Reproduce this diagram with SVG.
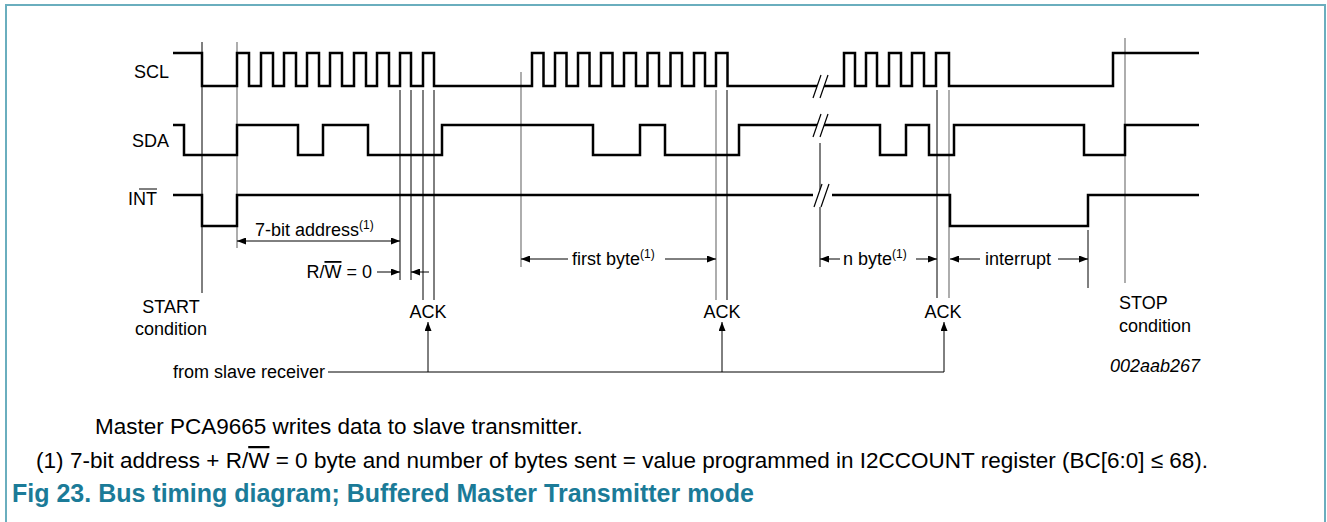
<svg xmlns="http://www.w3.org/2000/svg" width="1327" height="522" viewBox="0 0 1327 522">
<style>
.w{fill:none;stroke:#000;stroke-width:2.5;stroke-linejoin:miter}
.v{stroke:#000;stroke-width:1;fill:none}
.g{stroke:#777;stroke-width:1.2;fill:none}
.d{stroke:#000;stroke-width:1;fill:none}
.t{font-family:"Liberation Sans",Arial,sans-serif;font-size:18px;fill:#000}
.f{font-family:"Liberation Sans",Arial,sans-serif;font-size:22.5px;fill:#000}
.s{font-size:12px}
.br{fill:#fff;stroke:none}
.sl{stroke:#000;stroke-width:1.2}
.ttl{font-family:"Liberation Sans",Arial,sans-serif;font-size:25px;font-weight:bold;fill:#1b7b98}
</style>
<defs>
<marker id="ah" markerUnits="userSpaceOnUse" markerWidth="9" markerHeight="7" refX="9" refY="3.5" orient="auto-start-reverse">
<path d="M0,0 L9,3.5 L0,7 z" fill="#000"/>
</marker>
</defs>
<rect x="0" y="0" width="1327" height="522" fill="#fff"/>
<path d="M6,522 V5 H1325 V522" fill="none" stroke="#6aaebe" stroke-width="2"/>

<g id="labels">
<text class="t" x="169" y="78" text-anchor="end">SCL</text>
<text class="t" x="169" y="147" text-anchor="end">SDA</text>
<text class="t" x="157" y="205" text-anchor="end">INT</text>
<line x1="139" y1="189" x2="157" y2="189" stroke="#000" stroke-width="1"/>
</g>

<g id="markers">
<line class="v" x1="202" y1="42" x2="202" y2="293"/>
<line class="g" x1="237" y1="42" x2="237" y2="248"/>
<line class="v" x1="400" y1="90" x2="400" y2="280"/>
<line class="v" x1="411" y1="90" x2="411" y2="280"/>
<line class="v" x1="423" y1="90" x2="423" y2="300"/>
<line class="v" x1="434" y1="90" x2="434" y2="300"/>
<line class="g" x1="521" y1="72" x2="521" y2="267"/>
<line class="g" x1="716" y1="90" x2="716" y2="300"/>
<line class="v" x1="727" y1="90" x2="727" y2="300"/>
<line class="v" x1="820" y1="143" x2="820" y2="267"/>
<line class="v" x1="937" y1="90" x2="937" y2="298"/>
<line class="g" x1="949" y1="90" x2="949" y2="298"/>
<line class="v" x1="1088" y1="230" x2="1088" y2="288"/>
<line class="g" x1="1125" y1="38" x2="1125" y2="283"/>
</g>

<g id="SCL">
<path class="w" d="M173,53 H202 V86 H237 V53 H249 V86 H261 V53 H273 V86 H284 V53 H296 V86 H307 V53 H319 V86 H330 V53 H342 V86 H354 V53 H366 V86 H377 V53 H389 V86 H400 V53 H411 V86 H423 V53 H434 V86 H532 V53 H543.5 V86 H555 V53 H566.5 V86 H578 V53 H589.5 V86 H601 V53 H612.5 V86 H624 V53 H636 V86 H647.5 V53 H659 V86 H670.5 V53 H682 V86 H694 V53 H705 V86 H716 V53 H727.5 V86 H844 V53 H855 V86 H866 V53 H877 V86 H889 V53 H901 V86 H912 V53 H924 V86 H936 V53 H949 V86 H1113 V53 H1199"/>
</g>
<g id="SDA">
<path class="w" d="M173,125 H184 V155 H237 V125 H298 V155 H323 V125 H368 V155 H442 V125 H593 V155 H640 V125 H665 V155 H739 V125 H880 V155 H906 V125 H929 V155 H954 V125 H1084 V155 H1125 V125 H1199"/>
</g>
<g id="INT">
<path class="w" d="M173,195 H202 V226 H237 V195 H950 V226 H1088 V195 H1199"/>
</g>

<g id="breaks">
<polygon class="br" points="813,98 821,75 828,75 820,98"/>
<line class="sl" x1="813" y1="98" x2="821" y2="75"/>
<line class="sl" x1="820" y1="98" x2="828" y2="75"/>
<polygon class="br" points="813,137 821,114 828,114 820,137"/>
<line class="sl" x1="813" y1="137" x2="821" y2="114"/>
<line class="sl" x1="820" y1="137" x2="828" y2="114"/>
<rect class="br" x="813" y="190" width="19" height="10"/>
<polygon class="br" points="814,207 822,184 829,184 821,207"/>
<line class="sl" x1="814" y1="207" x2="822" y2="184"/>
<line class="sl" x1="821" y1="207" x2="829" y2="184"/>
</g>

<g id="connectors">
<line class="d" x1="237" y1="241" x2="400" y2="241" marker-start="url(#ah)" marker-end="url(#ah)"/>
<line class="d" x1="377" y1="272" x2="400" y2="272" marker-end="url(#ah)"/>
<line class="d" x1="429" y1="272" x2="411" y2="272" marker-end="url(#ah)"/>
<line class="d" x1="568" y1="259" x2="521" y2="259" marker-end="url(#ah)"/>
<line class="d" x1="665" y1="259" x2="716" y2="259" marker-end="url(#ah)"/>
<line class="d" x1="840" y1="259" x2="820" y2="259" marker-end="url(#ah)"/>
<line class="d" x1="916" y1="259" x2="937" y2="259" marker-end="url(#ah)"/>
<line class="d" x1="980" y1="259" x2="950" y2="259" marker-end="url(#ah)"/>
<line class="d" x1="1058" y1="259" x2="1088" y2="259" marker-end="url(#ah)"/>
<path class="d" d="M328,372 H944"/>
<line class="d" x1="428" y1="372" x2="428" y2="322" marker-end="url(#ah)"/>
<line class="d" x1="722" y1="372" x2="722" y2="322" marker-end="url(#ah)"/>
<line class="d" x1="944" y1="372" x2="944" y2="322" marker-end="url(#ah)"/>
</g>

<g id="annotations">
<text class="t" x="255" y="236">7-bit address<tspan class="s" dy="-7">(1)</tspan></text>
<text class="t" x="372" y="278" text-anchor="end">R/<tspan text-decoration="overline">W</tspan> = 0</text>
<text class="t" x="572" y="265">first byte<tspan class="s" dy="-7">(1)</tspan></text>
<text class="t" x="843" y="265">n byte<tspan class="s" dy="-7">(1)</tspan></text>
<text class="t" x="985" y="265">interrupt</text>
<text class="t" x="171" y="313" text-anchor="middle">START</text>
<text class="t" x="171" y="335" text-anchor="middle">condition</text>
<text class="t" x="428" y="318" text-anchor="middle">ACK</text>
<text class="t" x="722" y="318" text-anchor="middle">ACK</text>
<text class="t" x="943" y="318" text-anchor="middle">ACK</text>
<text class="t" x="1119" y="309">STOP</text>
<text class="t" x="1119" y="332">condition</text>
<text class="t" x="325" y="378" text-anchor="end">from slave receiver</text>
<text class="t" x="1110" y="372" font-style="italic" font-size="15">002aab267</text>
</g>

<g id="footnotes">
<text class="f" x="95" y="434">Master PCA9665 writes data to slave transmitter.</text>
<text class="f" x="36" y="468">(1)</text>
<text class="f" x="70" y="468">7-bit address + R/<tspan text-decoration="overline">W</tspan> = 0 byte and number of bytes sent = value programmed in I2CCOUNT register (BC[6:0] ≤ 68).</text>
<text class="ttl" x="12" y="502">Fig 23.  Bus timing diagram; Buffered Master Transmitter mode</text>
</g>
</svg>
